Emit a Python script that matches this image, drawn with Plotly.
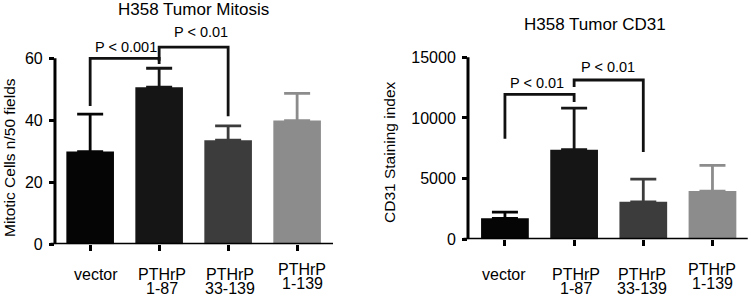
import plotly.graph_objects as go

categories = ["vector", "PTHrP 1-87", "PTHrP 33-139", "PTHrP 1-139"]
tick_line1 = ["vector", "PTHrP", "PTHrP", "PTHrP"]
tick_line2 = ["", "1-87", "33-139", "1-139"]
bar_colors = ["#050505", "#151515", "#3c3c3c", "#8c8c8c"]

mitosis_mean = [29.9, 50.7, 33.6, 39.9]
mitosis_err = [12.1, 6.1, 4.6, 8.8]
mitosis_ticks = [0, 20, 40, 60]

cd31_mean = [1725, 7390, 3090, 3970]
cd31_err = [520, 3420, 1865, 2130]
cd31_ticks = [0, 5000, 10000, 15000]

FONT = "Liberation Sans"
W, H = 750, 296

fig = go.Figure()

def add_bars(means, errs, xa, ya):
    for i, cat in enumerate(categories):
        fig.add_trace(go.Bar(
            x=[cat], y=[means[i]], width=0.69,
            marker=dict(color=bar_colors[i], line=dict(width=0)),
            error_y=dict(type="data", array=[errs[i]], arrayminus=[0], symmetric=False,
                         color=bar_colors[i], thickness=2.8, width=13),
            xaxis=xa, yaxis=ya, showlegend=False, hoverinfo="skip"))

def add_bracket(xs, ys, xa, ya):
    fig.add_trace(go.Scatter(x=xs, y=ys, mode="lines",
                             line=dict(color="#111", width=2.8),
                             xaxis=xa, yaxis=ya, showlegend=False, hoverinfo="skip",
                             cliponaxis=False))

add_bars(mitosis_mean, mitosis_err, "x", "y")
add_bars(cd31_mean, cd31_err, "x2", "y2")

# significance brackets (left)
add_bracket([categories[0], categories[0], categories[1], categories[1]], [44.6, 60, 60, 58.2], "x", "y")
add_bracket([categories[1], categories[1], categories[2], categories[2]], [59.2, 63.6, 63.6, 41.3], "x", "y")
# significance brackets (right)
add_bracket([categories[0], categories[0], categories[1], categories[1]], [8290, 11950, 11950, 11310], "x2", "y2")
add_bracket([categories[1], categories[1], categories[2], categories[2]], [12550, 13130, 13130, 7200], "x2", "y2")

xax = dict(type="category", categoryorder="array", categoryarray=categories,
           tickvals=categories, showticklabels=False,
           showline=False, ticks="outside", automargin=False,
           ticklen=6, tickwidth=3, tickcolor="black", showgrid=False, zeroline=False)
yax = dict(showline=False, ticks="outside", ticklen=5, tickwidth=3, tickcolor="black",
           showgrid=False, zeroline=False, automargin=False, tickformat="d",
           tickfont=dict(family=FONT, size=16, color="black"), ticklabelstandoff=3)

fig.update_layout(
    template="none",
    width=W, height=H, margin=dict(l=0, r=0, t=0, b=0, pad=0),
    paper_bgcolor="white", plot_bgcolor="white", barmode="overlay",
    font=dict(family=FONT, color="black"),
    xaxis=dict(xax, domain=[0.0733, 0.444], range=[-0.51, 3.52], anchor="y"),
    yaxis=dict(yax, domain=[0.1747, 0.9527], range=[0, 74.3], tickvals=mitosis_ticks, anchor="x"),
    xaxis2=dict(xax, domain=[0.624, 0.997], range=[-0.534, 3.51], anchor="y2"),
    yaxis2=dict(yax, domain=[0.1916, 0.9527], range=[0, 18569], tickvals=cd31_ticks, anchor="x2"),
)

# axis lines (y axis ends at top tick, x axis slightly overhangs the y axis)
for xa, ya, top in (("x", "y", mitosis_ticks[-1]), ("x2", "y2", cd31_ticks[-1])):
    fig.add_shape(type="line", xref=xa + " domain", yref=ya, x0=0, x1=0, y0=0, y1=top,
                  line=dict(color="black", width=3))
    fig.add_shape(type="line", xref=xa + " domain", yref=ya, x0=-0.016, x1=1, y0=0, y1=0,
                  line=dict(color="black", width=3))

ann = []
tf = dict(family=FONT, size=16, color="black")
C = dict(showarrow=False, xanchor="center", yanchor="middle")
# category labels (two lines, tight spacing as in the reference)
for xa, shifts in (("x", [6, 3, 2, 5]), ("x2", [-1, 2, -1, 0])):
    for i in range(len(categories)):
        up = 5 if i == 3 else 0
        ann.append(dict(C, text=tick_line1[i], x=i, y=1 - (274.5 - up) / H, xref=xa, yref="paper",
                        xshift=shifts[i], font=tf))
        if tick_line2[i]:
            ann.append(dict(C, text=tick_line2[i], x=i, y=1 - (288.5 - up) / H, xref=xa, yref="paper",
                            xshift=shifts[i], font=tf))
# titles
ann.append(dict(C, text="H358 Tumor Mitosis", x=193 / W, y=1 - 9.5 / H, xref="paper", yref="paper",
                font=dict(family=FONT, size=17, color="black")))
ann.append(dict(C, text="H358 Tumor CD31", x=595 / W, y=1 - 24 / H, xref="paper", yref="paper",
                font=dict(family=FONT, size=17, color="black")))
# y-axis titles
ann.append(dict(C, text="Mitotic Cells n/50 fields", x=9 / W, y=1 - 158 / H, xref="paper", yref="paper",
                textangle=-90, font=dict(family=FONT, size=15.5, color="black")))
ann.append(dict(C, text="CD31 Staining index", x=389 / W, y=1 - 152 / H, xref="paper", yref="paper",
                textangle=-90, font=dict(family=FONT, size=15.5, color="black")))
# p-values
pf = dict(family=FONT, size=14.5, color="black")
ann.append(dict(C, text="P < 0.001", x=0.52, y=63.6, xref="x", yref="y", font=pf))
ann.append(dict(C, text="P < 0.01", x=1.6, y=68.5, xref="x", yref="y", font=pf))
ann.append(dict(C, text="P < 0.01", x=0.46, y=12880, xref="x2", yref="y2", font=pf))
ann.append(dict(C, text="P < 0.01", x=1.49, y=14200, xref="x2", yref="y2", font=pf))
fig.update_layout(annotations=ann)

fig.write_html("out.html", config={"displayModeBar": False},
               post_script="document.body.style.margin='0px';document.body.style.padding='0px';")
